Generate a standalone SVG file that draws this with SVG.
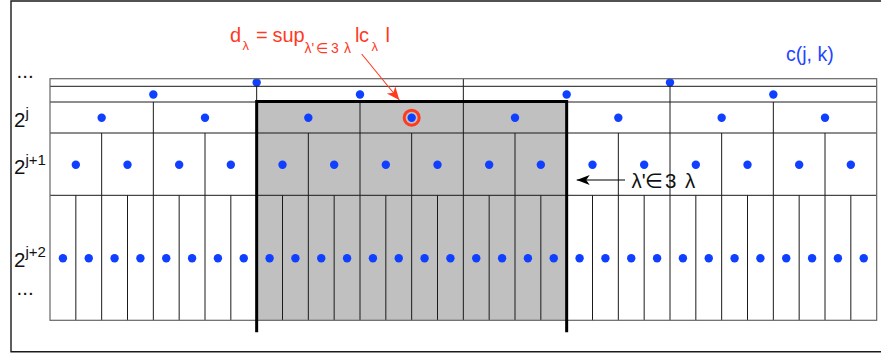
<svg xmlns="http://www.w3.org/2000/svg" width="881" height="354" viewBox="0 0 881 354">
<style>
  .txt { font-family: "Liberation Sans", Arial, "DejaVu Sans", sans-serif; }
  .lbl { font-size: 20.5px; fill: #111; }
  .sup { font-size: 15px; }
  .red { fill: #ff3a1f; }
  .blue { fill: #1f45ff; }
  .grid { stroke: #1a1a1a; stroke-width: 1; fill: none; }
  .border { stroke: #666; stroke-width: 1.2; fill: none; }
  .dot { fill: #1040ff; }
</style>
<defs>
  <marker id="ahRed" markerUnits="userSpaceOnUse" markerWidth="14" markerHeight="12" refX="13" refY="5.5" orient="auto">
    <path d="M0,0 L13,5.5 L0,11 L3.5,5.5 Z" fill="#ff3a1f"/>
  </marker>
  <marker id="ahBlack" markerUnits="userSpaceOnUse" markerWidth="14" markerHeight="12" refX="13" refY="5" orient="auto">
    <path d="M0,0 L13,5 L0,10 L3.5,5 Z" fill="#000"/>
  </marker>
</defs>

<g id="frame">
  <path d="M882,1 H11 V351.7 H882" fill="none" stroke="#1a1a1a" stroke-width="1.4"/>
</g>

<g id="neighbourhood-fill">
  <rect x="256.67" y="102" width="310" height="218.3" fill="#c0c0c0"/>
</g>

<g id="row-j-2">
  <path class="grid" d="M463.33 78.7 V86.3"/>
  <circle class="dot" cx="256.67" cy="82.5" r="4.2"/>
  <circle class="dot" cx="670" cy="82.5" r="4.2"/>
</g>

<g id="row-j-1">
  <path class="grid" d="M50 86.3 H876.67 M256.67 86.3 V102 M463.33 86.3 V102 M670 86.3 V102"/>
  <circle class="dot" cx="153.33" cy="94.5" r="4.2"/>
  <circle class="dot" cx="360" cy="94.5" r="4.2"/>
  <circle class="dot" cx="566.67" cy="94.5" r="4.2"/>
  <circle class="dot" cx="773.33" cy="94.5" r="4.2"/>
</g>

<g id="row-j">
  <path class="grid" d="M50 102 H876.67 M153.33 102 V133 M256.67 102 V133 M360 102 V133 M463.33 102 V133 M566.67 102 V133 M670 102 V133 M773.33 102 V133"/>
  <circle class="dot" cx="101.67" cy="117.7" r="4.2"/>
  <circle class="dot" cx="205" cy="117.7" r="4.2"/>
  <circle class="dot" cx="308.33" cy="117.7" r="4.2"/>
  <circle class="dot" cx="411.67" cy="117.7" r="4.2"/>
  <circle class="dot" cx="515" cy="117.7" r="4.2"/>
  <circle class="dot" cx="618.33" cy="117.7" r="4.2"/>
  <circle class="dot" cx="721.67" cy="117.7" r="4.2"/>
  <circle class="dot" cx="825" cy="117.7" r="4.2"/>
</g>

<g id="row-j1">
  <path class="grid" d="M50 133 H876.67 M101.67 133 V195.3 M153.33 133 V195.3 M205 133 V195.3 M256.67 133 V195.3 M308.33 133 V195.3 M360 133 V195.3 M411.67 133 V195.3 M463.33 133 V195.3 M515 133 V195.3 M566.67 133 V195.3 M618.33 133 V195.3 M670 133 V195.3 M721.67 133 V195.3 M773.33 133 V195.3 M825 133 V195.3"/>
  <circle class="dot" cx="75.83" cy="164.7" r="4.2"/>
  <circle class="dot" cx="127.5" cy="164.7" r="4.2"/>
  <circle class="dot" cx="179.17" cy="164.7" r="4.2"/>
  <circle class="dot" cx="230.83" cy="164.7" r="4.2"/>
  <circle class="dot" cx="282.5" cy="164.7" r="4.2"/>
  <circle class="dot" cx="334.17" cy="164.7" r="4.2"/>
  <circle class="dot" cx="385.83" cy="164.7" r="4.2"/>
  <circle class="dot" cx="437.5" cy="164.7" r="4.2"/>
  <circle class="dot" cx="489.17" cy="164.7" r="4.2"/>
  <circle class="dot" cx="540.83" cy="164.7" r="4.2"/>
  <circle class="dot" cx="592.5" cy="164.7" r="4.2"/>
  <circle class="dot" cx="644.17" cy="164.7" r="4.2"/>
  <circle class="dot" cx="695.83" cy="164.7" r="4.2"/>
  <circle class="dot" cx="747.5" cy="164.7" r="4.2"/>
  <circle class="dot" cx="799.17" cy="164.7" r="4.2"/>
  <circle class="dot" cx="850.83" cy="164.7" r="4.2"/>
</g>

<g id="row-j2">
  <path class="grid" d="M50 195.3 H876.67 M75.83 195.3 V320.3 M101.67 195.3 V320.3 M127.5 195.3 V320.3 M153.33 195.3 V320.3 M179.17 195.3 V320.3 M205 195.3 V320.3 M230.83 195.3 V320.3 M256.67 195.3 V320.3 M282.5 195.3 V320.3 M308.33 195.3 V320.3 M334.17 195.3 V320.3 M360 195.3 V320.3 M385.83 195.3 V320.3 M411.67 195.3 V320.3 M437.5 195.3 V320.3 M463.33 195.3 V320.3 M489.17 195.3 V320.3 M515 195.3 V320.3 M540.83 195.3 V320.3 M566.67 195.3 V320.3 M592.5 195.3 V320.3 M618.33 195.3 V320.3 M644.17 195.3 V320.3 M670 195.3 V320.3 M695.83 195.3 V320.3 M721.67 195.3 V320.3 M747.5 195.3 V320.3 M773.33 195.3 V320.3 M799.17 195.3 V320.3 M825 195.3 V320.3 M850.83 195.3 V320.3"/>
  <circle class="dot" cx="62.92" cy="258.3" r="4.2"/>
  <circle class="dot" cx="88.75" cy="258.3" r="4.2"/>
  <circle class="dot" cx="114.58" cy="258.3" r="4.2"/>
  <circle class="dot" cx="140.42" cy="258.3" r="4.2"/>
  <circle class="dot" cx="166.25" cy="258.3" r="4.2"/>
  <circle class="dot" cx="192.08" cy="258.3" r="4.2"/>
  <circle class="dot" cx="217.92" cy="258.3" r="4.2"/>
  <circle class="dot" cx="243.75" cy="258.3" r="4.2"/>
  <circle class="dot" cx="269.58" cy="258.3" r="4.2"/>
  <circle class="dot" cx="295.42" cy="258.3" r="4.2"/>
  <circle class="dot" cx="321.25" cy="258.3" r="4.2"/>
  <circle class="dot" cx="347.08" cy="258.3" r="4.2"/>
  <circle class="dot" cx="372.92" cy="258.3" r="4.2"/>
  <circle class="dot" cx="398.75" cy="258.3" r="4.2"/>
  <circle class="dot" cx="424.58" cy="258.3" r="4.2"/>
  <circle class="dot" cx="450.42" cy="258.3" r="4.2"/>
  <circle class="dot" cx="476.25" cy="258.3" r="4.2"/>
  <circle class="dot" cx="502.08" cy="258.3" r="4.2"/>
  <circle class="dot" cx="527.92" cy="258.3" r="4.2"/>
  <circle class="dot" cx="553.75" cy="258.3" r="4.2"/>
  <circle class="dot" cx="579.58" cy="258.3" r="4.2"/>
  <circle class="dot" cx="605.42" cy="258.3" r="4.2"/>
  <circle class="dot" cx="631.25" cy="258.3" r="4.2"/>
  <circle class="dot" cx="657.08" cy="258.3" r="4.2"/>
  <circle class="dot" cx="682.92" cy="258.3" r="4.2"/>
  <circle class="dot" cx="708.75" cy="258.3" r="4.2"/>
  <circle class="dot" cx="734.58" cy="258.3" r="4.2"/>
  <circle class="dot" cx="760.42" cy="258.3" r="4.2"/>
  <circle class="dot" cx="786.25" cy="258.3" r="4.2"/>
  <circle class="dot" cx="812.08" cy="258.3" r="4.2"/>
  <circle class="dot" cx="837.92" cy="258.3" r="4.2"/>
  <circle class="dot" cx="863.75" cy="258.3" r="4.2"/>
</g>

<g id="grid-border">
  <rect class="border" x="50" y="78.7" width="826.67" height="241.6"/>
</g>

<g id="neighbourhood-outline">
  <path d="M256.67 332.3 V101.5 H566.67 V332.3" fill="none" stroke="#000" stroke-width="3"/>
</g>

<g id="selected-coefficient">
  <circle cx="411.67" cy="117.7" r="7.5" fill="none" stroke="#ff3a1f" stroke-width="3"/>
</g>

<g id="labels" class="txt">
  <text class="lbl" x="16.5" y="77.5">...</text>
  <text class="lbl" x="14" y="126.7">2<tspan class="sup" dy="-8.5">j</tspan></text>
  <text class="lbl" x="14" y="174">2<tspan class="sup" dy="-9">j+1</tspan></text>
  <text class="lbl" x="14" y="267.3">2<tspan class="sup" dy="-10">j+2</tspan></text>
  <text class="lbl" x="16.5" y="294.5">...</text>
  <text class="blue" font-size="19.5" x="786" y="61">c(j, k)</text>
  <text class="red" font-size="20" y="41.7"><tspan x="230">d</tspan><tspan x="242.5" y="50" font-size="13">λ</tspan><tspan x="256" y="41.7">=</tspan><tspan x="272.5">sup</tspan><tspan x="304.5" y="52.5" font-size="14">λ'</tspan><tspan x="316" y="52.5" font-size="14">∈</tspan><tspan x="331" y="52.5" font-size="14">3</tspan><tspan x="344" y="52.5" font-size="14">λ</tspan><tspan x="355" y="41.7">l</tspan><tspan x="359">c</tspan><tspan x="371.5" y="50.5" font-size="13">λ</tspan><tspan x="385.5" y="41.7">l</tspan></text>
  <text class="lbl" y="187.7"><tspan x="631.5">λ'</tspan><tspan x="645">∈</tspan><tspan x="665">3</tspan><tspan x="685">λ</tspan></text>
</g>

<g id="connectors">
  <line x1="361.7" y1="54" x2="399.3" y2="100" stroke="#ff3a1f" stroke-width="1.1" marker-end="url(#ahRed)"/>
  <line x1="625" y1="180" x2="576.7" y2="180" stroke="#000" stroke-width="1.2" marker-end="url(#ahBlack)"/>
</g>
</svg>
